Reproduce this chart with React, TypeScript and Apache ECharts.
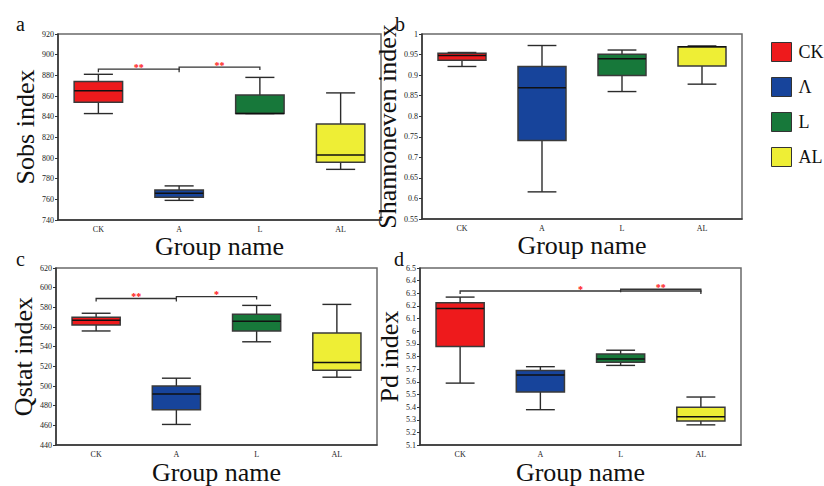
import React, { useEffect, useRef } from "react";
import * as echarts from "echarts";

const categories = ["CK", "A", "L", "AL"];
const legendNames = ["CK", "Λ", "L", "AL"];
const groupColors = ["#EE1A1C", "#17449B", "#17783A", "#EEEE35"];

// [whisker low, Q1, median, Q3, whisker high]
const sobsValues = [
  [843, 854, 865, 874, 881],
  [759, 762, 766, 769, 773],
  [843, 843, 843, 861, 878],
  [789, 796, 803, 833, 863],
];
const shannonValues = [
  [0.921, 0.936, 0.948, 0.953, 0.955],
  [0.616, 0.741, 0.869, 0.921, 0.972],
  [0.86, 0.899, 0.94, 0.951, 0.961],
  [0.878, 0.922, 0.969, 0.969, 0.971],
];
const qstatValues = [
  [556, 562, 567, 570, 574],
  [461, 476, 492, 500, 508],
  [545, 556, 566, 573, 582],
  [509, 516, 524, 554, 583],
];
const pdValues = [
  [5.59, 5.88, 6.18, 6.225, 6.27],
  [5.38, 5.52, 5.655, 5.69, 5.72],
  [5.73, 5.755, 5.78, 5.82, 5.85],
  [5.26, 5.29, 5.325, 5.4, 5.48],
];

// [from group, to group, bracket value, marker]
const sobsSig = [
  [0, 1, 886, "**"],
  [1, 2, 888, "**"],
];
const qstatSig = [
  [0, 1, 589, "**"],
  [1, 2, 591, "*"],
];
const pdSig = [
  [0, 3, 6.318, "*"],
  [2, 3, 6.332, "**"],
];

const panelLetters = ["a", "b", "c", "d"];
const yTitles = ["Sobs index", "Shannoneven index", "Qstat index", "Pd index"];
const xTitle = "Group name";
const yMins = [740, 0.55, 440, 5.1];
const yMaxs = [920, 1, 620, 6.5];
const yIntervals = [20, 0.05, 20, 0.1];

const FONT = "Liberation Serif";

function boxRender(params: any, api: any) {
  const x = api.value(0);
  const lo = api.coord([x, api.value(1)]);
  const q1 = api.coord([x, api.value(2)]);
  const med = api.coord([x, api.value(3)]);
  const q3 = api.coord([x, api.value(4)]);
  const hi = api.coord([x, api.value(5)]);
  const band = api.size([1, 0])[0];
  const bw = band * 0.6;
  const cw = band * 0.36;
  const cx = lo[0];
  const color = api.visual("color");
  const ls = { stroke: "#2b2b2b", lineWidth: 1.4 };
  return {
    type: "group",
    children: [
      { type: "line", shape: { x1: cx, y1: lo[1], x2: cx, y2: q1[1] }, style: ls },
      { type: "line", shape: { x1: cx, y1: q3[1], x2: cx, y2: hi[1] }, style: ls },
      { type: "line", shape: { x1: cx - cw / 2, y1: lo[1], x2: cx + cw / 2, y2: lo[1] }, style: ls },
      { type: "line", shape: { x1: cx - cw / 2, y1: hi[1], x2: cx + cw / 2, y2: hi[1] }, style: ls },
      {
        type: "rect",
        shape: { x: cx - bw / 2, y: q3[1], width: bw, height: q1[1] - q3[1] },
        style: { fill: color, stroke: "#3a3a3a", lineWidth: 1.5 },
      },
      { type: "line", shape: { x1: cx - bw / 2, y1: med[1], x2: cx + bw / 2, y2: med[1] }, style: { stroke: "#111", lineWidth: 1.5 } },
    ],
  };
}

function sigRender(params: any, api: any) {
  const a = api.coord([api.value(0), api.value(2)]);
  const b = api.coord([api.value(1), api.value(2)]);
  return {
    type: "group",
    children: [
      {
        type: "polyline",
        shape: { points: [[a[0], a[1] + 3], [a[0], a[1]], [b[0], b[1]], [b[0], b[1] + 3]] },
        style: { stroke: "#333", lineWidth: 1.3, fill: "none" },
      },
      {
        type: "text",
        style: {
          x: (a[0] + b[0]) / 2,
          y: a[1] - 2,
          text: api.value(3) as any,
          fill: "#ff1010",
          fontSize: 10,
          fontWeight: "bold",
          align: "center",
          verticalAlign: "middle",
          fontFamily: FONT,
        },
      },
    ],
  };
}

export default function App() {
  const ref = useRef<HTMLDivElement>(null);
  useEffect(() => {
    if (!ref.current) return;
    const chart = echarts.init(ref.current, undefined, { renderer: "svg" });
    const panelData = [sobsValues, shannonValues, qstatValues, pdValues];
    const sigData = [sobsSig, null, qstatSig, pdSig];
    const grids = [
      { left: 58, top: 34, width: 323, height: 186 },
      { left: 422, top: 34, width: 320, height: 185 },
      { left: 56, top: 268, width: 321, height: 184 },
      { left: 420, top: 268, width: 321, height: 185 },
    ];
    const yNameGaps = [20, 11, 19, 15];
    const letterPos = [
      [22, 23],
      [401, 23],
      [22, 258],
      [400, 258],
    ];

    const series: any[] = [];
    panelData.forEach((vals, p) => {
      vals.forEach((v, g) => {
        series.push({
          type: "custom",
          name: legendNames[g],
          xAxisIndex: p,
          yAxisIndex: p,
          itemStyle: { color: groupColors[g] },
          renderItem: boxRender,
          encode: { x: 0, y: [1, 2, 3, 4, 5] },
          data: [[g, ...v]],
          z: 2,
        });
      });
      const sig = sigData[p];
      if (sig) {
        series.push({
          type: "custom",
          xAxisIndex: p,
          yAxisIndex: p,
          renderItem: sigRender,
          dimensions: ["from", "to", "y", { name: "label", type: "ordinal" }],
          encode: { x: 0, y: 2 },
          data: sig,
          z: 3,
        });
      }
    });

    const option: any = {
      animation: false,
      backgroundColor: "#fff",
      textStyle: { fontFamily: FONT },
      grid: grids.map((g) => ({
        ...g,
        show: true,
        borderColor: "#6a6a6a",
        borderWidth: 1.5,
        backgroundColor: "transparent",
        containLabel: false,
      })),
      xAxis: grids.map((_, p) => ({
        type: "category",
        gridIndex: p,
        data: categories,
        boundaryGap: true,
        name: xTitle,
        nameLocation: "middle",
        nameGap: 10,
        nameTextStyle: { fontSize: 26, fontFamily: FONT, color: "#111" },
        axisLine: { lineStyle: { color: "#333", width: 1.5 } },
        axisTick: { alignWithLabel: true, length: 3, lineStyle: { color: "#333" } },
        axisLabel: { fontSize: 8, fontFamily: FONT, color: "#222", margin: 5 },
        splitLine: { show: false },
      })),
      yAxis: grids.map((_, p) => ({
        type: "value",
        gridIndex: p,
        min: yMins[p],
        max: yMaxs[p],
        interval: yIntervals[p],
        name: yTitles[p],
        nameLocation: "middle",
        nameRotate: 90,
        nameGap: yNameGaps[p],
        nameTextStyle: { fontSize: 26, fontFamily: FONT, color: "#111" },
        axisLine: { show: true, lineStyle: { color: "#333", width: 1.5 } },
        axisTick: { show: true, length: 3, lineStyle: { color: "#333" } },
        axisLabel: { fontSize: 8, fontFamily: FONT, color: "#222", margin: 4 },
        splitLine: { show: false },
      })),
      legend: {
        orient: "vertical",
        left: 766,
        top: 37,
        data: legendNames,
        icon: "rect",
        itemWidth: 20,
        itemHeight: 19,
        itemGap: 15,
        itemStyle: { borderColor: "#333", borderWidth: 1 },
        textStyle: { fontSize: 18, fontFamily: FONT, color: "#111", padding: [0, 0, 0, 2] },
        selectedMode: false,
      },
      graphic: letterPos.map((pos, i) => ({
        type: "text",
        left: pos[0] - 6,
        top: pos[1] - 9,
        style: { text: panelLetters[i], fontSize: 20, fontFamily: FONT, fill: "#111" },
      })),
      series,
    };
    chart.setOption(option);
    return () => chart.dispose();
  }, []);
  return (
    <div
      ref={ref}
      style={{ position: "fixed", left: 0, top: 0, width: 824, height: 486, background: "#fff" }}
    />
  );
}
